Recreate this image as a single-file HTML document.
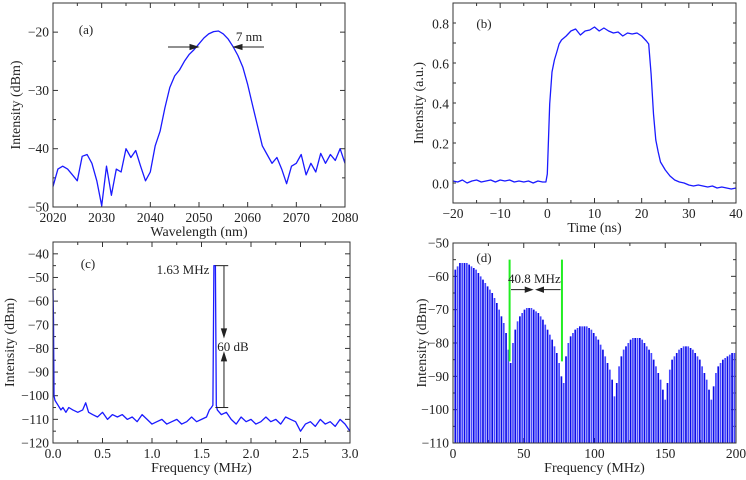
<!DOCTYPE html>
<html><head><meta charset="utf-8"><style>
body{margin:0;background:#fff}
svg{display:block;font-family:"Liberation Serif",serif}
text{fill:#222}
</style></head><body>
<svg id="fig" width="746" height="480" viewBox="0 0 746 480"></svg>
<script>
// ---- Panel (a) data ----
const aWavelength = [2020,2021,2022,2023,2024,2025,2026,2027,2028,2029,2030,2031,2032,2033,2034,2035,2036,2037,2038,2039,2040,2041,2042,2043,2044,2045,2046,2047,2048,2049,2050,2051,2052,2053,2054,2055,2056,2057,2058,2059,2060,2061,2062,2063,2064,2065,2066,2067,2068,2069,2070,2071,2072,2073,2074,2075,2076,2077,2078,2079,2080];
const aIntensity = [-46.5,-43.5,-43,-43.5,-44.5,-45.5,-41.3,-41,-42.5,-45.5,-49.8,-43,-48,-43.5,-44,-40,-41.5,-40.3,-43,-45.5,-44,-39.5,-37,-33,-29.5,-27.5,-26.5,-25,-23.8,-23,-22,-21,-20.3,-19.9,-19.8,-20.3,-21.2,-22.5,-24,-26,-29,-32.5,-36,-39.5,-41,-42.5,-41.5,-43.5,-46,-43,-42.5,-41,-44.5,-42.5,-44,-40.8,-42.5,-41,-42,-40,-42.5];
const aXTicks = [2020,2030,2040,2050,2060,2070,2080];
const aYTicks = [-50,-40,-30,-20];
// ---- Panel (b) data ----
const bTime = [-20,-19,-18,-17,-16,-15,-14,-13,-12,-11,-10,-9,-8,-7,-6,-5,-4,-3,-2,-1,-0.3,0,0.5,1,1.5,2,2.5,3,4,5,6,7,8,9,10,11,12,13,14,15,16,17,18,19,20,21,21.5,22,22.5,23,23.5,24,25,26,27,28,29,30,31,32,33,34,35,36,37,38,39,40];
const bIntensity = [0.015,0.01,0.02,0.005,0.015,0.02,0.01,0.015,0.02,0.01,0.02,0.015,0.02,0.01,0.015,0.01,0.015,0.005,0.015,0.01,0.01,0.05,0.4,0.56,0.62,0.66,0.7,0.72,0.74,0.765,0.775,0.745,0.765,0.77,0.785,0.765,0.78,0.765,0.755,0.76,0.74,0.755,0.75,0.755,0.74,0.715,0.7,0.55,0.35,0.22,0.16,0.11,0.07,0.04,0.02,0.01,0.005,-0.005,-0.01,-0.005,-0.01,-0.015,-0.01,-0.02,-0.015,-0.02,-0.025,-0.02];
const bXTicks = [-20,-10,0,10,20,30,40];
const bYTicks = [0,0.2,0.4,0.6,0.8];
// ---- Panel (c) data ----
const cFreq = [0,0.005,0.01,0.02,0.05,0.08,0.1,0.13,0.16,0.2,0.25,0.3,0.33,0.36,0.4,0.45,0.5,0.55,0.6,0.65,0.7,0.75,0.8,0.85,0.9,0.95,1.0,1.05,1.1,1.15,1.2,1.25,1.3,1.35,1.4,1.45,1.5,1.55,1.58,1.6,1.615,1.625,1.64,1.65,1.66,1.7,1.75,1.8,1.85,1.9,1.95,2.0,2.05,2.1,2.15,2.2,2.25,2.3,2.35,2.4,2.45,2.5,2.55,2.6,2.65,2.7,2.75,2.8,2.85,2.9,2.95,3.0];
const cIntensity = [-55,-68,-100,-102,-104,-106,-105,-107,-105,-106,-107,-106,-103,-107,-108,-109,-107,-110,-108,-109,-108,-110,-109,-111,-108,-110,-112,-111,-110,-112,-111,-110,-112,-111,-109,-111,-110,-109,-106,-105,-104,-45,-45,-104,-106,-108,-107,-110,-112,-109,-111,-110,-112,-111,-109,-111,-110,-112,-109,-110,-111,-115,-112,-111,-113,-110,-112,-111,-113,-110,-112,-115];
const cXTicks = [0,0.5,1.0,1.5,2.0,2.5,3.0];
const cYTicks = [-120,-110,-100,-90,-80,-70,-60,-50,-40];
// ---- Panel (d) data (comb line heights, 1.63 MHz spacing) ----
const dLineHeights = [-58,-57,-56,-56,-56,-56,-56.5,-57,-57.5,-58,-59,-60,-61,-62,-63,-64,-65,-66.5,-68,-70,-72,-74,-77,-82,-86,
-80,-76,-73.5,-72,-71,-70,-69.5,-69.5,-69.5,-70,-70.5,-71,-72,-73,-74.5,-76,-77.5,-79,-81,-83,-86,-90,-92,
-84,-80,-78,-77,-76,-75.5,-75,-75,-75,-75,-75.5,-76,-77,-78,-79,-80.5,-82,-84,-86,-88,-91,-96,
-92,-87,-84,-82,-81,-80,-79,-78.5,-78.5,-78.5,-78.5,-79,-80,-81,-82,-83,-85,-87,-89,-91,-94,-97,
-92,-88,-85,-84,-83,-82,-81.5,-81,-81,-81,-81.5,-82,-83,-84,-85,-87,-89,-91,-94,-97,
-93,-89,-87,-86,-85,-84.5,-84,-83.5,-83,-83];
const dSpacing = 1.63;
const dXTicks = [0,50,100,150,200];
const dYTicks = [-110,-100,-90,-80,-70,-60,-50];

const NS="http://www.w3.org/2000/svg";
const svg=document.getElementById('fig');
function mk(tag,attrs,parent){const e=document.createElementNS(NS,tag);for(const k in attrs)e.setAttribute(k,attrs[k]);(parent||svg).appendChild(e);return e;}
function txt(s,x,y,size,anchor,parent){const t=mk('text',{x:x,y:y,'font-size':size,'text-anchor':anchor||'middle'},parent);t.textContent=s;return t;}
function fmt(v,dec){let s=dec?v.toFixed(dec):String(v);return s.replace('-','\u2212');}

function panel(id,box,xr,yr,xt,yt,xMinorStep,yMinorStep,xTitle,yTitle,dec,xdec){
  const g=mk('g',{});
  
  
  const X=v=>box.l+(v-xr[0])/(xr[1]-xr[0])*(box.r-box.l);
  const Y=v=>box.b-(v-yr[0])/(yr[1]-yr[0])*(box.b-box.t);
  const ax=mk('g',{},g);
  
  
  for(let v=xr[0];v<=xr[1]+1e-9;v+=xMinorStep){const x=X(v);const maj=xt.some(t=>Math.abs(t-v)<1e-6);const L=maj?5:3;
    mk('line',{x1:x,x2:x,y1:box.b,y2:box.b-L,stroke:'#333','stroke-width':1},ax);
    mk('line',{x1:x,x2:x,y1:box.t,y2:box.t+L,stroke:'#333','stroke-width':1},ax);}
  for(let v=yr[0];v<=yr[1]+1e-9;v+=yMinorStep){const y=Y(v);if(y<box.t-0.5)continue;const maj=yt.some(t=>Math.abs(t-v)<1e-6);const L=maj?5:3;
    mk('line',{y1:y,y2:y,x1:box.l,x2:box.l+L,stroke:'#333','stroke-width':1},ax);
    mk('line',{y1:y,y2:y,x1:box.r,x2:box.r-L,stroke:'#333','stroke-width':1},ax);}
  xt.forEach(v=>{const t=txt(fmt(v,xdec),X(v),box.b+15,13.5,'middle',ax);});
  yt.forEach(v=>{const t=txt(fmt(v,dec),box.l-4,Y(v)+4.5,13.5,'end',ax);});
  const xtl=txt(xTitle,(box.l+box.r)/2,box.b+29,14,'middle',ax);
  
  
  const cy=(box.t+box.b)/2;
  const ytl=mk('text',{x:0,y:0,'font-size':14,'text-anchor':'middle',transform:`translate(${box.yTitleX},${cy}) rotate(-90)`},ax);
  ytl.textContent=yTitle;
  
  
  return {g,X,Y,box};
}
function frame(P){const r=mk('rect',{x:P.box.l,y:P.box.t,width:P.box.r-P.box.l,height:P.box.b-P.box.t,fill:'none',stroke:'#333','stroke-width':1},P.g);}
function line(P,xs,ys,name){const d=xs.map((x,i)=>(i?'L':'M')+P.X(x).toFixed(1)+','+P.Y(ys[i]).toFixed(1)).join('');
  const p=mk('path',{d:d,fill:'none',stroke:'#1a1aff','stroke-width':1.3,'stroke-linejoin':'round'},P.g);}

// Panel a
const A=panel('a',{l:53,r:345,t:3,b:207,yTitleX:20},[2020,2080],[-50,-15],aXTicks,aYTicks,5,5,'Wavelength (nm)','Intensity (dBm)');
line(A,aWavelength,aIntensity,'spectrum-line');
frame(A);
{const l1=txt('(a)',86,34,13,'middle',A.g);
 const t=txt('7 nm',249,41,13,'middle',A.g);
 const ar=mk('g',{stroke:'#222','stroke-width':1,fill:'#222'},A.g);
 mk('line',{x1:168,y1:47,x2:193,y2:47},ar);mk('path',{d:'M198,47 L190,44.5 L190,49.5Z'},ar);
 mk('line',{x1:239,y1:47,x2:264,y2:47},ar);mk('path',{d:'M234,47 L242,44.5 L242,49.5Z'},ar);}

// Panel b
const B=panel('b',{l:453,r:736,t:3,b:203,yTitleX:423},[-20,40],[-0.095,0.905],bXTicks,bYTicks,5,0.1,'Time (ns)','Intensity (a.u.)',1);
line(B,bTime,bIntensity,'pulse-line');
frame(B);
{const l=txt('(b)',484,28,13,'middle',B.g);}

// Panel c
const C=panel('c',{l:53,r:350,t:242,b:443,yTitleX:14},[0,3],[-120,-35],cXTicks,cYTicks,0.25,5,'Frequency (MHz)','Intensity (dBm)',0,1);
line(C,cFreq,cIntensity,'rf-spectrum-line');
frame(C);
{const l=txt('(c)',88,268,13,'middle',C.g);
 const t1=txt('1.63 MHz',183,274,13,'middle',C.g);
 const t2=txt('60 dB',233,351,13,'middle',C.g);
 const ar=mk('g',{stroke:'#222','stroke-width':1,fill:'#222'},C.g);
 const xa=C.X(1.727),yt=C.Y(-45),yb=C.Y(-105);
 mk('line',{x1:C.X(1.64),x2:C.X(1.77),y1:yt,y2:yt},ar);mk('line',{x1:C.X(1.64),x2:C.X(1.77),y1:yb,y2:yb},ar);
 mk('line',{x1:xa,x2:xa,y1:yt,y2:C.Y(-73)},ar);mk('path',{d:`M${xa},${C.Y(-73)+5} L${xa-2.5},${C.Y(-73)-3} L${xa+2.5},${C.Y(-73)-3}Z`},ar);
 mk('line',{x1:xa,x2:xa,y1:yb,y2:C.Y(-84)},ar);mk('path',{d:`M${xa},${C.Y(-84)-5} L${xa-2.5},${C.Y(-84)+3} L${xa+2.5},${C.Y(-84)+3}Z`},ar);}

// Panel d
const D=panel('d',{l:453,r:736,t:243,b:443,yTitleX:426},[0,200],[-110,-50],dXTicks,dYTicks,25,5,'Frequency (MHz)','Intensity (dBm)');
{const comb=mk('g',{},D.g);
 dLineHeights.forEach((h,i)=>{const f=(i+1)*dSpacing;const x=D.X(f);
  const l=mk('line',{x1:x,x2:x,y1:D.box.b,y2:D.Y(h),stroke:i%2?'#4646ff':'#0c0ce6','stroke-width':1.7},comb);
  
  });
 const gr=mk('g',{stroke:'#22ee22','stroke-width':2},D.g);
 mk('line',{x1:D.X(40),x2:D.X(40),y1:D.Y(-55),y2:D.Y(-85.5)},gr);
 mk('line',{x1:D.X(77),x2:D.X(77),y1:D.Y(-55),y2:D.Y(-85.5)},gr);
 const ar=mk('g',{stroke:'#222','stroke-width':1,fill:'#222'},D.g);
 const ya=D.Y(-64);
 mk('line',{x1:D.X(41),x2:D.X(54),y1:ya,y2:ya},ar);mk('path',{d:`M${D.X(56)},${ya} L${D.X(56)-7},${ya-2.5} L${D.X(56)-7},${ya+2.5}Z`},ar);
 mk('line',{x1:D.X(62),x2:D.X(76),y1:ya,y2:ya},ar);mk('path',{d:`M${D.X(59)},${ya} L${D.X(59)+7},${ya-2.5} L${D.X(59)+7},${ya+2.5}Z`},ar);
 const t=txt('40.8 MHz',D.X(57.5),D.Y(-62),13,'middle',D.g);
 const l=txt('(d)',484,262,13,'middle',D.g);}
frame(D);
</script>
</body></html>
